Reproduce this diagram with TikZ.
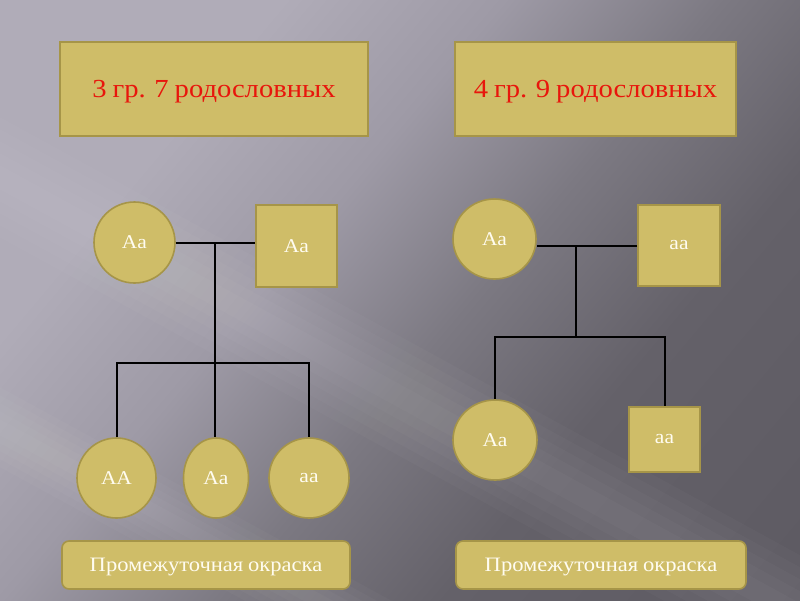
\documentclass[tikz,border=0pt]{standalone}
\usepackage{fontspec}
\setmainfont{Liberation Serif}
\newfontfamily\widefont[FakeStretch=1.1,WordSpace=0.85]{Liberation Serif}
\usetikzlibrary{shapes.geometric,calc}
\definecolor{tanfill}{RGB}{207,189,104}
\definecolor{tanedge}{RGB}{166,149,72}
\definecolor{ttlred}{RGB}{232,22,12}
\definecolor{cream}{RGB}{255,252,240}
\definecolor{bgA}{RGB}{176,172,184}
\definecolor{bgB}{RGB}{158,154,166}
\definecolor{bgC}{RGB}{124,121,130}
\definecolor{bgD}{RGB}{100,97,105}
\definecolor{bgE}{RGB}{88,85,93}
\pgfdeclarehorizontalshading{bgshade}{100bp}{color(0bp)=(bgA); color(30bp)=(bgA); color(42bp)=(bgB); color(54bp)=(bgC); color(66bp)=(bgD); color(100bp)=(bgE)}
\tikzset{
  tanshape/.style={fill=tanfill, draw=tanedge, line width=1.6pt, inner sep=0pt},
  person/.style={tanshape, text=cream, font=\widefont\fontsize{19.5}{22}\selectfont},
  female/.style={person, ellipse},
  male/.style={person, rectangle},
  titlebox/.style={tanshape, rectangle, text=ttlred, text depth=0pt, font=\widefont\fontsize{26}{30}\selectfont},
  notebox/.style={tanshape, rectangle, rounded corners=7pt, text=cream, text depth=0pt, minimum height=48pt, font=\widefont\fontsize{20.5}{24}\selectfont},
  link/.style={draw=black, line width=2pt}
}
\newcommand{\rayband}[3]{% start, end, max half width
  \foreach \w in {0.2,0.4,0.6,0.8,1.0}{
    \fill[white, opacity=0.022] ($(#1)+(0,-#3*\w)$) -- ($(#2)+(0,-#3*\w)$) -- ($(#2)+(0,#3*\w)$) -- ($(#1)+(0,#3*\w)$) -- cycle;
  }}
\begin{document}
\begin{tikzpicture}[x=1pt,y=-1pt]
\useasboundingbox (0,0) rectangle (800,600);
% background
\begin{scope}
\clip (0,0) rectangle (800,600);
\shade[shading=bgshade, shading angle=-40] (0,0) rectangle (800,600);
\rayband{-50,150}{900,670}{60}
\rayband{-50,400}{900,918}{40}
\end{scope}
% titles
\node[titlebox, minimum width=308pt, minimum height=94pt] (t1) at (214,89) {3 гр. 7 родословных};
\node[titlebox, minimum width=281pt, minimum height=94pt] (t2) at (595.5,89) {4 гр. 9 родословных};
% left pedigree
\node[female, minimum width=81pt, minimum height=81pt] (m1) at (134.5,242.5) {Aa};
\node[male, minimum width=81pt, minimum height=82pt] (f1) at (296.5,246) {Aa};
\node[female, minimum width=79pt, minimum height=80pt] (k1) at (116.5,478) {AA};
\node[female, minimum width=65pt, minimum height=80pt] (k2) at (216,478) {Aa};
\node[female, minimum width=80pt, minimum height=80pt] (k3) at (309,478) {aa};
\coordinate (c1) at (215,242);
\coordinate (s1) at (215,363);
\draw[link] (m1.east) -- (m1.east -| f1.west);
\draw[link] (c1) -- (c1 |- k2.north);
\draw[link] (k1.north) -- (k1.north |- s1) -- (k3.north |- s1) -- (k3.north);
% right pedigree
\node[female, minimum width=83pt, minimum height=80pt] (m2) at (494.5,239) {Aa};
\node[male, minimum width=82pt, minimum height=81pt] (f2) at (679,245.5) {aa};
\node[female, minimum width=84pt, minimum height=80pt] (k4) at (495,440) {Aa};
\node[male, minimum width=71pt, minimum height=65pt] (k5) at (664.5,439.5) {aa};
\coordinate (c2) at (576,245);
\coordinate (s2) at (576,337);
\draw[link] (f2.west) -- (f2.west -| m2.east);
\draw[link] (c2) -- (s2);
\draw[link] (k4.north) -- (k4.north |- s2) -- (k5.north |- s2) -- (k5.north);
% notes
\node[notebox, minimum width=288pt] (n1) at (206,565) {Промежуточная окраска};
\node[notebox, minimum width=290pt] (n2) at (601,565) {Промежуточная окраска};
\end{tikzpicture}
\end{document}
